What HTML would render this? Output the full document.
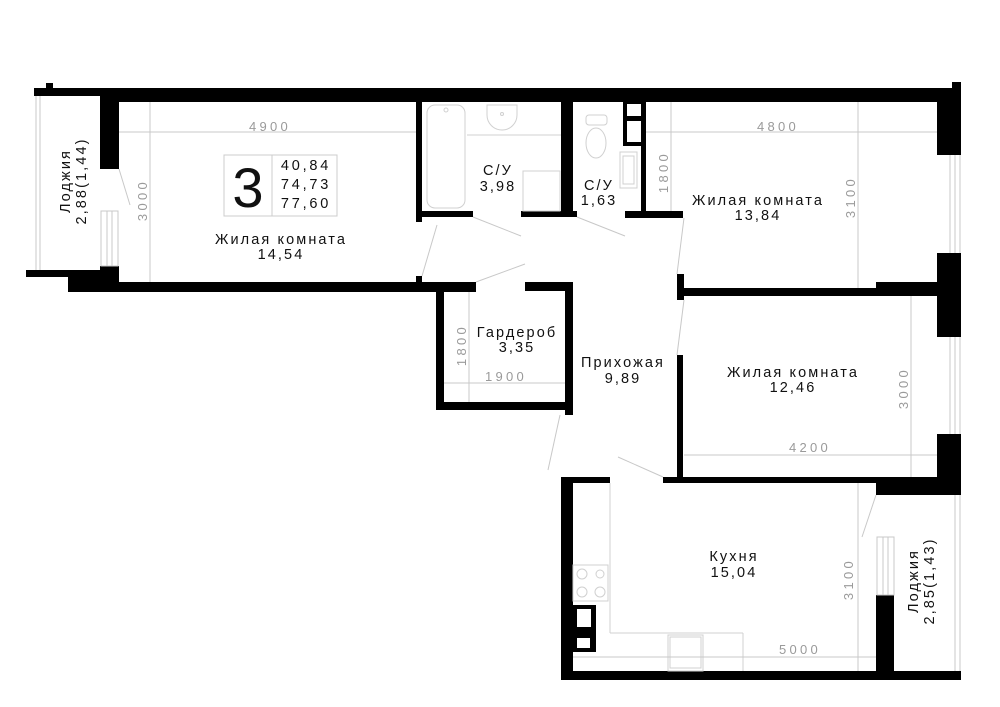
<!DOCTYPE html>
<html><head><meta charset="utf-8"><style>
html,body{margin:0;padding:0;background:#fff;}
svg{display:block;}
text{font-family:"Liberation Sans",sans-serif;}
.l{font-size:14.5px;fill:#111;letter-spacing:2.1px;text-anchor:middle;}
.n{font-size:14.5px;fill:#111;letter-spacing:2.8px;text-anchor:middle;}
.d{font-size:13px;fill:#9a9a9a;letter-spacing:3.3px;text-anchor:middle;}
.g{stroke:#c8c8c8;stroke-width:1;fill:none;}
.f{stroke:#d0d0d0;stroke-width:1;fill:none;}
</style></head><body>
<svg width="1000" height="707" viewBox="0 0 1000 707" xmlns="http://www.w3.org/2000/svg">
<rect width="1000" height="707" fill="#fff"/>
<g fill="#000">
<rect x="46" y="83" width="7" height="6"/>
<rect x="34" y="88" width="70" height="8"/>
<rect x="100" y="88" width="861" height="14"/>
<rect x="952" y="82" width="9" height="8"/>
<rect x="100" y="88" width="19" height="81"/>
<rect x="100" y="266" width="19" height="26"/>
<rect x="26" y="270" width="93" height="7"/>
<rect x="68" y="276" width="51" height="16"/>
<rect x="68" y="282" width="408" height="10"/>
<rect x="416" y="102" width="6" height="120"/>
<rect x="416" y="276" width="6" height="8"/>
<rect x="416" y="211" width="57" height="6"/>
<rect x="521" y="211" width="56" height="6"/>
<rect x="561" y="102" width="12" height="115"/>
<rect x="625" y="211" width="58" height="7"/>
<rect x="641" y="102" width="5" height="116"/>
<path d="M623 102h22v44h-22z M627 104v12h14v-12z M627 121v21h14v-21z" fill-rule="evenodd"/>
<rect x="436" y="282" width="40" height="10"/>
<rect x="436" y="282" width="8" height="128"/>
<rect x="436" y="402" width="136" height="8"/>
<rect x="525" y="282" width="48" height="9"/>
<rect x="565" y="282" width="8" height="133"/>
<rect x="683" y="288" width="254" height="8"/>
<rect x="876" y="282" width="61" height="14"/>
<rect x="677" y="274" width="7" height="26"/>
<rect x="937" y="88" width="24" height="67"/>
<rect x="937" y="253" width="24" height="84"/>
<rect x="937" y="434" width="24" height="61"/>
<rect x="677" y="355" width="6" height="128"/>
<rect x="663" y="477" width="274" height="6"/>
<rect x="876" y="477" width="85" height="18"/>
<rect x="561" y="477" width="49" height="6"/>
<rect x="561" y="477" width="12" height="203"/>
<rect x="561" y="671" width="400" height="9"/>
<rect x="876" y="595" width="18" height="80"/>
<path d="M573 605h23v47h-23z M577 609v18h14v-18z M577 638v10h13v-10z" fill-rule="evenodd"/>
</g>
<g class="g">
<line x1="36" y1="96" x2="36" y2="270"/><line x1="40" y1="96" x2="40" y2="270"/>
<rect x="101" y="211" width="17" height="55"/><line x1="107" y1="211" x2="107" y2="266"/><line x1="112" y1="211" x2="112" y2="266"/>
<line x1="950" y1="155" x2="950" y2="253"/><line x1="955" y1="155" x2="955" y2="253"/><line x1="960" y1="155" x2="960" y2="253"/>
<line x1="950" y1="337" x2="950" y2="434"/><line x1="955" y1="337" x2="955" y2="434"/><line x1="960" y1="337" x2="960" y2="434"/>
<line x1="955" y1="495" x2="955" y2="671"/><line x1="960" y1="495" x2="960" y2="671"/>
<rect x="877" y="537" width="17" height="58"/><line x1="883" y1="537" x2="883" y2="595"/><line x1="888" y1="537" x2="888" y2="595"/>
<line x1="119" y1="169" x2="130" y2="205"/>
<line x1="422" y1="276" x2="437" y2="225"/>
<line x1="473" y1="217" x2="521" y2="236"/>
<line x1="577" y1="217" x2="625" y2="236"/>
<line x1="476" y1="282" x2="525" y2="264"/>
<line x1="684" y1="218" x2="677" y2="274"/>
<line x1="684" y1="300" x2="677" y2="355"/>
<line x1="560" y1="415" x2="548" y2="470"/>
<line x1="618" y1="457" x2="663" y2="477"/>
<line x1="876" y1="495" x2="862" y2="537"/>
</g>
<g class="f">
<rect x="427" y="105" width="38" height="103" rx="8"/>
<circle cx="446" cy="110" r="2"/>
<path d="M487 105h30v10a15 15 0 0 1 -30 0z"/><circle cx="502" cy="114" r="1.5"/>
<line x1="467" y1="135" x2="561" y2="135"/>
<rect x="523" y="171" width="37" height="40"/>
<rect x="586" y="115" width="21" height="10" rx="3"/>
<ellipse cx="596" cy="143" rx="10" ry="15"/>
<rect x="620" y="152" width="17" height="36"/><rect x="623" y="156" width="11" height="28"/>
<line x1="610" y1="483" x2="610" y2="633"/>
<line x1="610" y1="633" x2="743" y2="633"/>
<line x1="743" y1="633" x2="743" y2="671"/>
<rect x="573" y="565" width="35" height="36"/>
<circle cx="582" cy="574" r="5"/><circle cx="600" cy="574" r="4"/><circle cx="582" cy="592" r="5"/><circle cx="600" cy="592" r="5"/>
<rect x="668" y="635" width="35" height="36"/><rect x="670" y="637" width="31" height="31"/>
</g>
<g class="g" stroke="#ccc">
<line x1="119" y1="132" x2="416" y2="132"/>
<line x1="150" y1="102" x2="150" y2="282"/>
<line x1="646" y1="132" x2="937" y2="132"/>
<line x1="671" y1="102" x2="671" y2="211"/>
<line x1="858" y1="102" x2="858" y2="288"/>
<line x1="911" y1="296" x2="911" y2="477"/>
<line x1="684" y1="455" x2="937" y2="455"/>
<line x1="573" y1="657" x2="876" y2="657"/>
<line x1="858" y1="483" x2="858" y2="671"/>
<line x1="469" y1="292" x2="469" y2="402"/>
<line x1="444" y1="383" x2="565" y2="383"/>
</g>
<text class="d" x="270" y="131">4900</text>
<text class="d" transform="translate(147,200) rotate(-90)">3000</text>
<text class="d" x="778" y="131">4800</text>
<text class="d" transform="translate(668,172) rotate(-90)">1800</text>
<text class="d" transform="translate(855,197) rotate(-90)">3100</text>
<text class="d" transform="translate(908,388) rotate(-90)">3000</text>
<text class="d" x="810" y="452">4200</text>
<text class="d" x="800" y="654">5000</text>
<text class="d" transform="translate(853,579) rotate(-90)">3100</text>
<text class="d" transform="translate(466,345) rotate(-90)">1800</text>
<text class="d" x="506" y="381">1900</text>
<rect x="224" y="155" width="113" height="61" fill="none" stroke="#ccc"/>
<line x1="272" y1="155" x2="272" y2="216" stroke="#ccc"/>
<text x="248" y="207" font-size="56" text-anchor="middle" fill="#111">3</text>
<text class="n" x="306" y="170">40,84</text>
<text class="n" x="306" y="189">74,73</text>
<text class="n" x="306" y="208">77,60</text>
<text class="l" x="281" y="244">Жилая комната</text><text class="l" x="281" y="259">14,54</text>
<text class="l" x="498" y="175">С/У</text><text class="l" x="498" y="191">3,98</text>
<text class="l" x="599" y="190">С/У</text><text class="l" x="599" y="205">1,63</text>
<text class="l" x="758" y="205">Жилая комната</text><text class="l" x="758" y="220">13,84</text>
<text class="l" x="517" y="337">Гардероб</text><text class="l" x="517" y="352">3,35</text>
<text class="l" x="623" y="367">Прихожая</text><text class="l" x="623" y="383">9,89</text>
<text class="l" x="793" y="377">Жилая комната</text><text class="l" x="793" y="392">12,46</text>
<text class="l" x="734" y="561">Кухня</text><text class="l" x="734" y="577">15,04</text>
<text class="l" transform="translate(70,181) rotate(-90)">Лоджия</text>
<text class="l" transform="translate(86,181) rotate(-90)">2,88(1,44)</text>
<text class="l" transform="translate(918,581) rotate(-90)">Лоджия</text>
<text class="l" transform="translate(934,581) rotate(-90)">2,85(1,43)</text>
</svg>
</body></html>
